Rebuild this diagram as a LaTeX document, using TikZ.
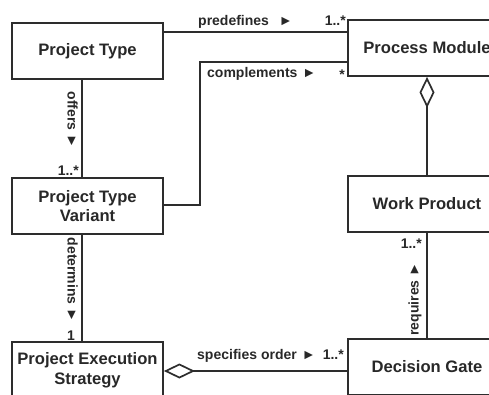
\documentclass[tikz,border=0pt]{standalone}
\usepackage{fontspec}
\setmainfont{Liberation Sans}
\usetikzlibrary{arrows.meta}
\definecolor{linec}{RGB}{45,45,45}
\definecolor{txt}{RGB}{40,40,40}
\begin{document}
\begin{tikzpicture}[x=1pt,y=-1pt,
  box/.style={draw=linec, line width=1.8pt, minimum width=151pt, minimum height=56pt, inner sep=0pt, align=center, font=\fontsize{16.6}{19.5}\selectfont\bfseries, text=txt},
  rbox/.style={box, minimum width=158pt},
  conn/.style={draw=linec, line width=1.7pt},
  lab/.style={font=\fontsize{14}{16}\selectfont\bfseries, inner sep=0pt, text=txt},
  agg/.style={{Diamond[open,length=31pt,width=15pt,line width=1.7pt]}-}
]
\useasboundingbox (0,0) rectangle (489,394);
\clip (0,0) rectangle (489,394);
% boxes
\node[box] (PT) at (87.5,51) {Project Type};
\node[box] (PTV) at (87.5,206) {Project Type\\Variant};
\node[box] (PES) at (87.5,370) {Project Execution\\Strategy};
\node[rbox] (PM) at (427,48) {Process Module};
\node[rbox] (WP) at (427,204) {Work Product};
\node[rbox] (DG) at (427,367) {Decision Gate};
% predefines
\draw[conn] ([yshift=-10pt]PT.north east) -- ([yshift=-13pt]PM.north west);
\node[lab, anchor=base west] (l1) at (198,25) {predefines\hspace{10pt}►};
\node[lab, anchor=base east] (m1) at (346,25) {1..*};
% complements
\coordinate (c1) at (200,205);
\coordinate (c2) at (200,62);
\draw[conn] (PTV.east |- c1) -- (c1) -- (c2) -- (PM.west |- c2);
\node[lab, anchor=base west] (l2) at (207,77) {complements\hspace{5pt}►};
\node[lab, anchor=base east] (m2) at (345,79) {*};
% offers
\draw[conn] ([xshift=-5.5pt]PT.south) -- ([xshift=-5.5pt]PTV.north);
\node[lab, rotate=-90] (l3) at (72.5,120) {offers ►};
\node[lab, anchor=base east] (m3) at (79,175) {1..*};
% determins
\draw[conn] ([xshift=-5.5pt]PTV.south) -- ([xshift=-5.5pt]PES.north);
\node[lab, rotate=-90] (l4) at (72.5,280) {determins ►};
\node[lab, anchor=base east] (m4) at (75,340) {1};
% aggregation PM - WP
\draw[conn, agg] (PM.south) -- (WP.north);
% requires
\draw[conn] (WP.south) -- (DG.north);
\node[lab, rotate=90] (l5) at (415,299) {requires ►};
\node[lab, anchor=base east] (m5) at (422,248) {1..*};
% specifies order
\draw[conn, agg] ([yshift=-1pt]PES.east) -- ([yshift=-1pt]PES.east -| DG.west);
\node[lab, anchor=base west] (l6) at (197,359) {specifies order\hspace{5pt}►};
\node[lab, anchor=base east] (m6) at (344,359) {1..*};
\end{tikzpicture}
\end{document}
